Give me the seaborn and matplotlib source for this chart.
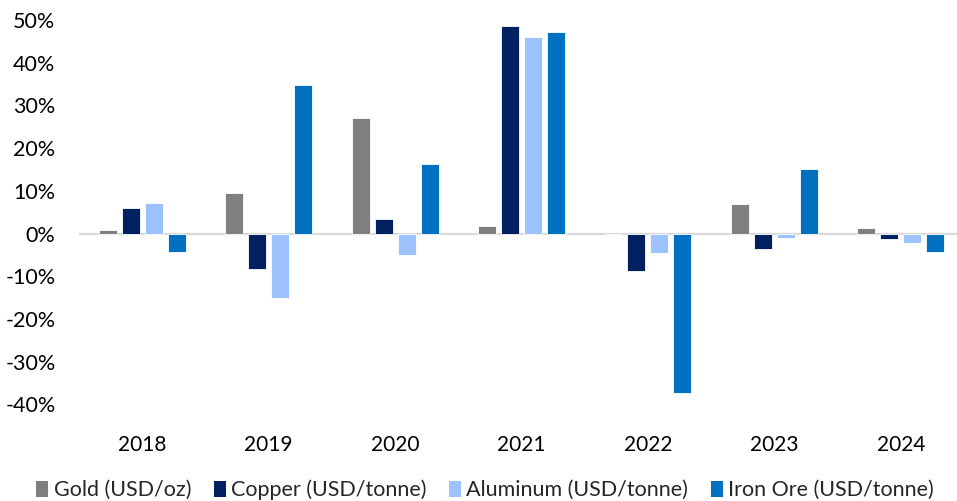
import matplotlib
matplotlib.use("Agg")
import matplotlib.pyplot as plt
import seaborn as sns
import pandas as pd
from matplotlib.ticker import FuncFormatter
from matplotlib.patches import Patch

years = ["2018", "2019", "2020", "2021", "2022", "2023", "2024"]
series_names = ["Gold (USD/oz)", "Copper (USD/tonne)", "Aluminum (USD/tonne)", "Iron Ore (USD/tonne)"]
gold = [0.8, 9.6, 27.0, 1.7, 0.0, 6.8, 1.4]
copper = [5.9, -8.2, 3.3, 48.5, -8.8, -3.7, -1.2]
aluminum = [7.1, -15.0, -5.0, 46.1, -4.5, -1.1, -2.2]
iron_ore = [-4.3, 34.8, 16.2, 47.3, -37.3, 15.0, -4.4]
y_ticks = [-40, -30, -20, -10, 0, 10, 20, 30, 40, 50]

colors = ["#7F7F7F", "#002060", "#9DC3FE", "#0070C0"]

rows = []
for name, vals in zip(series_names, [gold, copper, aluminum, iron_ore]):
    for y, v in zip(years, vals):
        rows.append({"Year": y, "Series": name, "Value": v})
df = pd.DataFrame(rows)

sns.set_theme(style="white")
plt.rcParams["font.family"] = ["Lato", "DejaVu Sans"]

fig = plt.figure(figsize=(9.57, 5.01), dpi=100)
ax = fig.add_axes([79 / 957, 96.7 / 501, 885 / 957, (404.3 - 20) / 501])

sns.barplot(data=df, x="Year", y="Value", hue="Series", order=years,
            hue_order=series_names, palette=colors, saturation=1, width=0.728, gap=0.22,
            edgecolor="white", linewidth=0.6, ax=ax, legend=False)

ax.set_ylim(-40, 50)
ax.set_xlim(-0.5, 6.5)
ax.set_yticks(y_ticks)
ax.yaxis.set_major_formatter(FuncFormatter(lambda v, p: f"{int(round(v))}%"))
ax.axhline(0, color="#D9D9D9", lw=1.6, zorder=0.5)
for s in ax.spines.values():
    s.set_visible(False)
ax.set_xlabel("")
ax.set_ylabel("")
ax.tick_params(axis="y", length=0, pad=17, labelsize=15.5, labelcolor="#000000")
ax.tick_params(axis="x", length=0, pad=22, labelsize=15, labelcolor="#000000")
ax.grid(False)

handles = [Patch(facecolor=c, edgecolor="none") for c in colors]
fig.legend(handles, series_names, loc="center", bbox_to_anchor=(485 / 957, 1 - 490 / 501),
           ncol=4, frameon=False, fontsize=15.5, handlelength=0.55, handleheight=0.8,
           handletextpad=0.25, columnspacing=1.05)

fig.savefig("out.png", dpi=100)
